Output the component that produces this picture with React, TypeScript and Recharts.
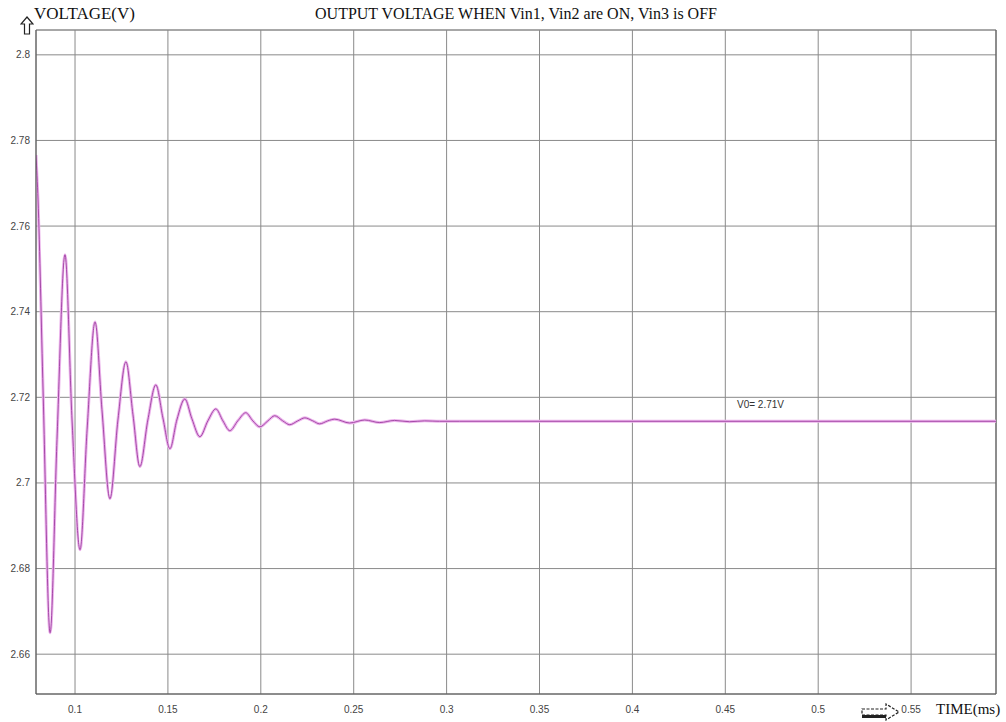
import React from 'react';
import {
  LineChart,
  Line,
  XAxis,
  YAxis,
  CartesianGrid,
  ReferenceLine,
} from 'recharts';

// values (time in ms, output voltage in V)
const timeMs = [
  0.079, 0.0801, 0.0828, 0.0866, 0.0903, 0.0946, 0.0984, 0.1027, 0.1065, 0.1108,
  0.1145, 0.1188, 0.1231, 0.1274, 0.1312, 0.1349, 0.1392, 0.1435, 0.1473, 0.1511,
  0.1548, 0.1591, 0.1629, 0.1672, 0.1715, 0.1758, 0.1796, 0.1833, 0.1876, 0.1919,
  0.1957, 0.1995, 0.2038, 0.2075, 0.2118, 0.2156, 0.2199, 0.2237, 0.228, 0.2317,
  0.236, 0.2398, 0.2478, 0.2559, 0.264, 0.272, 0.2801, 0.2882, 0.2962, 0.307, 0.5957,
];
const voltage = [
  2.7766, 2.7661, 2.7217, 2.665, 2.7101, 2.7533, 2.7147, 2.6844, 2.7124, 2.7376,
  2.7171, 2.6963, 2.7147, 2.7283, 2.7159, 2.7038, 2.7147, 2.7229, 2.7152, 2.708,
  2.7147, 2.7196, 2.715, 2.7108, 2.7145, 2.7173, 2.7145, 2.7122, 2.7145, 2.7164,
  2.7145, 2.7131, 2.7145, 2.7157, 2.7145, 2.7136, 2.7145, 2.7152, 2.7145, 2.7138,
  2.7145, 2.7149, 2.714, 2.7147, 2.7141, 2.7146, 2.7143, 2.7145, 2.7144, 2.7144, 2.7144,
];

const xTicks = [0.1, 0.15, 0.2, 0.25, 0.3, 0.35, 0.4, 0.45, 0.5, 0.55];
const yTicks = [2.66, 2.68, 2.7, 2.72, 2.74, 2.76, 2.78, 2.8];
const xDomain = [0.079, 0.5957];
const yDomain = [2.6507, 2.8058];

const data = timeMs.map((t, i) => ({ t, v: voltage[i] }));

const serif = '"Liberation Serif", "Times New Roman", serif';
const sans = '"Liberation Sans", Arial, sans-serif';

export default function App() {
  return (
    <div
      style={{
        position: 'absolute',
        left: 0,
        top: 0,
        width: 1006,
        height: 722,
        background: '#fff',
        overflow: 'hidden',
      }}
    >
      <LineChart
        width={1006}
        height={722}
        data={data}
        margin={{ top: 30, right: 10, bottom: 0, left: 0 }}
      >
        <CartesianGrid stroke="#8a8a8a" strokeWidth={1} />
        <XAxis
          dataKey="t"
          type="number"
          domain={xDomain}
          ticks={xTicks}
          allowDataOverflow
          height={28}
          tickLine={false}
          tickSize={6}
          tickMargin={6}
          stroke="#555"
          tick={{ fill: '#444', fontSize: 10, fontFamily: sans }}
        />
        <YAxis
          type="number"
          domain={yDomain}
          ticks={yTicks}
          allowDataOverflow
          width={36}
          tickLine={false}
          tickSize={4}
          tickMargin={2}
          stroke="#555"
          tick={{ fill: '#444', fontSize: 10, fontFamily: sans }}
        />
        <ReferenceLine y={yDomain[1]} stroke="#8a8a8a" />
        <ReferenceLine x={xDomain[1]} stroke="#555" />
        <Line
          type="monotone"
          dataKey="v"
          stroke="#ecb4ec"
          strokeWidth={3}
          dot={false}
          isAnimationActive={false}
        />
        <Line
          type="monotone"
          dataKey="v"
          stroke="#a54aa8"
          strokeWidth={1}
          dot={false}
          isAnimationActive={false}
        />
      </LineChart>

      <div
        style={{
          position: 'absolute',
          left: 0,
          top: 4,
          width: 1032,
          textAlign: 'center',
          fontFamily: serif,
          fontSize: 16,
          color: '#111',
          lineHeight: 1.2,
        }}
      >
        OUTPUT VOLTAGE WHEN Vin1, Vin2 are ON, Vin3 is OFF
      </div>
      {/* hollow up arrow beside the y-axis title */}
      <svg
        width={14}
        height={20}
        style={{ position: 'absolute', left: 20, top: 16 }}
      >
        <path
          d="M7 1 L13 8 H9.5 V18 H4.5 V8 H1 Z"
          fill="#fff"
          stroke="#222"
          strokeWidth={1.2}
        />
      </svg>
      <div
        style={{
          position: 'absolute',
          left: 34,
          top: 5,
          fontFamily: serif,
          fontSize: 17,
          color: '#111',
          lineHeight: 1.1,
        }}
      >
        VOLTAGE(V)
      </div>
      <div
        style={{
          position: 'absolute',
          left: 737,
          top: 399,
          fontFamily: sans,
          fontSize: 10,
          color: '#333',
        }}
      >
        V0= 2.71V
      </div>
      <svg
        width={42}
        height={20}
        style={{ position: 'absolute', left: 860, top: 702 }}
      >
        <path
          d="M2 7 H26 V2 L39 10 L26 18 V13 H2 Z"
          fill="#fff"
          stroke="#222"
          strokeWidth={1.2}
          strokeDasharray="3 1.5"
        />
        <rect x={2} y={13} width={24} height={3} fill="#222" />
      </svg>
      <div
        style={{
          position: 'absolute',
          left: 936,
          top: 701,
          fontFamily: serif,
          fontSize: 15,
          color: '#111',
          lineHeight: 1.1,
        }}
      >
        TIME(ms)
      </div>
    </div>
  );
}
